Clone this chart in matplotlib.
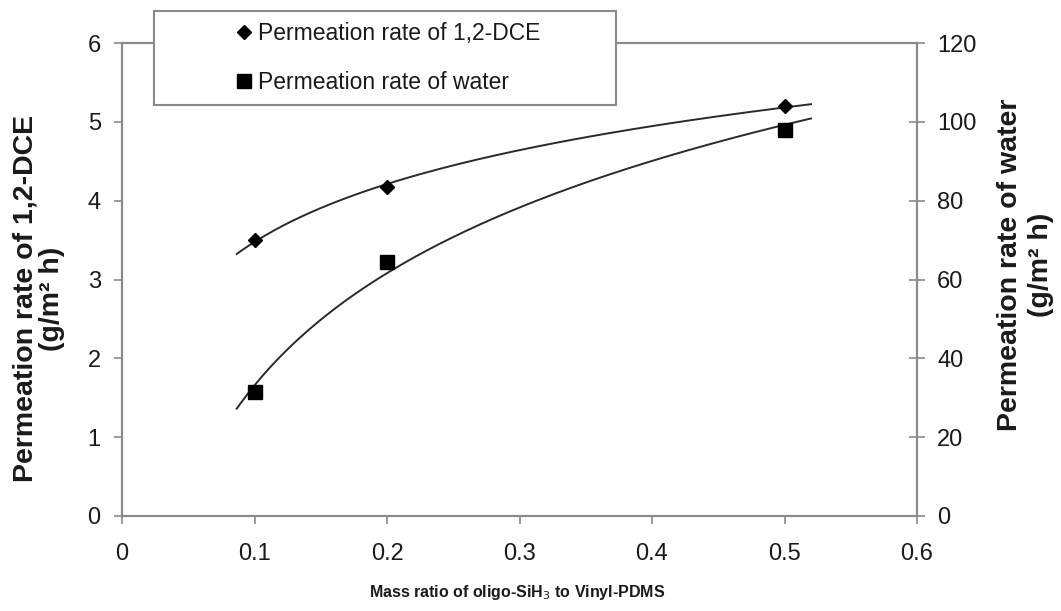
import numpy as np
import matplotlib
matplotlib.use("Agg")
import matplotlib.pyplot as plt
from matplotlib.lines import Line2D
from matplotlib.patches import Rectangle

plt.rcParams["font.family"] = ["Liberation Sans", "DejaVu Sans"]

# data
ratio = [0.1, 0.2, 0.5]
dce_rate = [3.5, 4.17, 5.2]        # g/m2 h, left axis
water_rate = [31.5, 64.5, 98.0]    # g/m2 h, right axis
x_ticks = [0, 0.1, 0.2, 0.3, 0.4, 0.5, 0.6]
x_tick_labels = ["0", "0.1", "0.2", "0.3", "0.4", "0.5", "0.6"]
left_ticks = [0, 1, 2, 3, 4, 5, 6]
right_ticks = [0, 20, 40, 60, 80, 100, 120]
trend_range = (0.0866, 0.52)

grey = "#8a8a8a"
ink = "#1a1a1a"

fig = plt.figure(figsize=(10.61, 6.11), dpi=100)
ax = fig.add_axes([122 / 1061, 1 - 516 / 611, 795 / 1061, 473 / 611])
ax2 = ax.twinx()

# logarithmic trend lines (Excel style)
xt = np.linspace(trend_range[0], trend_range[1], 200)
c1 = np.polyfit(np.log(ratio), dce_rate, 1)
c2 = np.polyfit(np.log(ratio), water_rate, 1)
ax.plot(xt, np.polyval(c1, np.log(xt)), color="#2a2a2a", lw=1.4, zorder=2)
ax2.plot(xt, np.polyval(c2, np.log(xt)), color="#2a2a2a", lw=1.4, zorder=2)

ax.plot(ratio, dce_rate, ls="none", marker="D", ms=7.6, color="black", zorder=3)
ax2.plot(ratio, water_rate, ls="none", marker="s", ms=9.6, color="black", zorder=3)

ax.set_xlim(0, 0.6)
ax.set_ylim(0, 6)
ax2.set_ylim(0, 120)
ax.set_xticks(x_ticks)
ax.set_xticklabels(x_tick_labels)
ax.set_yticks(left_ticks)
ax2.set_yticks(right_ticks)

for a in (ax, ax2):
    for s in a.spines.values():
        s.set_color(grey)
        s.set_linewidth(1.5)
ax.tick_params(axis="y", direction="out", length=5.8, width=1.2, color=grey,
               pad=9.5, labelsize=17, labelcolor=ink)
ax.tick_params(axis="x", direction="out", length=5.8, width=1.2, color=grey,
               pad=14, labelsize=17, labelcolor=ink)
ax2.tick_params(axis="y", direction="inout", length=12, width=1.2, color=grey,
                pad=8.4, labelsize=17, labelcolor=ink)

ax.set_ylabel("Permeation rate of 1,2-DCE\n(g/m² h)", fontsize=20.5,
              fontweight="bold", color=ink, linespacing=1.05,
              va="center", ha="center")
ax.yaxis.set_label_coords(-0.105, 0.46)
ax2.set_ylabel("Permeation rate of water\n(g/m² h)", fontsize=20.5,
               fontweight="bold", color=ink, rotation=90, linespacing=1.25,
               va="center", ha="center")
ax2.yaxis.set_label_coords(1.137, 0.53)

fig.text(517 / 1061, 1 - 592 / 611, "Mass ratio of oligo-SiH$_3$ to Vinyl-PDMS",
         ha="center", va="center", fontsize=11.5, fontweight="bold", color=ink,
         family=["Liberation Sans Narrow", "Liberation Sans", "DejaVu Sans"])

# legend box sitting over the top spine
box = Rectangle((154 / 1061, 1 - 105 / 611), 462 / 1061, 94 / 611,
                transform=fig.transFigure, facecolor="white", edgecolor=grey,
                lw=1.5, zorder=10)
fig.patches.append(box)
handles = [Line2D([], [], ls="none", marker="D", ms=7.6, color="black"),
           Line2D([], [], ls="none", marker="s", ms=9.6, color="black")]
leg = fig.legend(handles, ["Permeation rate of 1,2-DCE", "Permeation rate of water"],
                 loc="center", bbox_to_anchor=(388 / 1061, 1 - 58 / 611),
                 frameon=False, fontsize=16.5, handlelength=0.7,
                 handletextpad=0.25, labelspacing=1.15, borderpad=0.2)
leg.set_zorder(11)
for t in leg.get_texts():
    t.set_color(ink)

fig.savefig("out.png", dpi=100, facecolor="white")
